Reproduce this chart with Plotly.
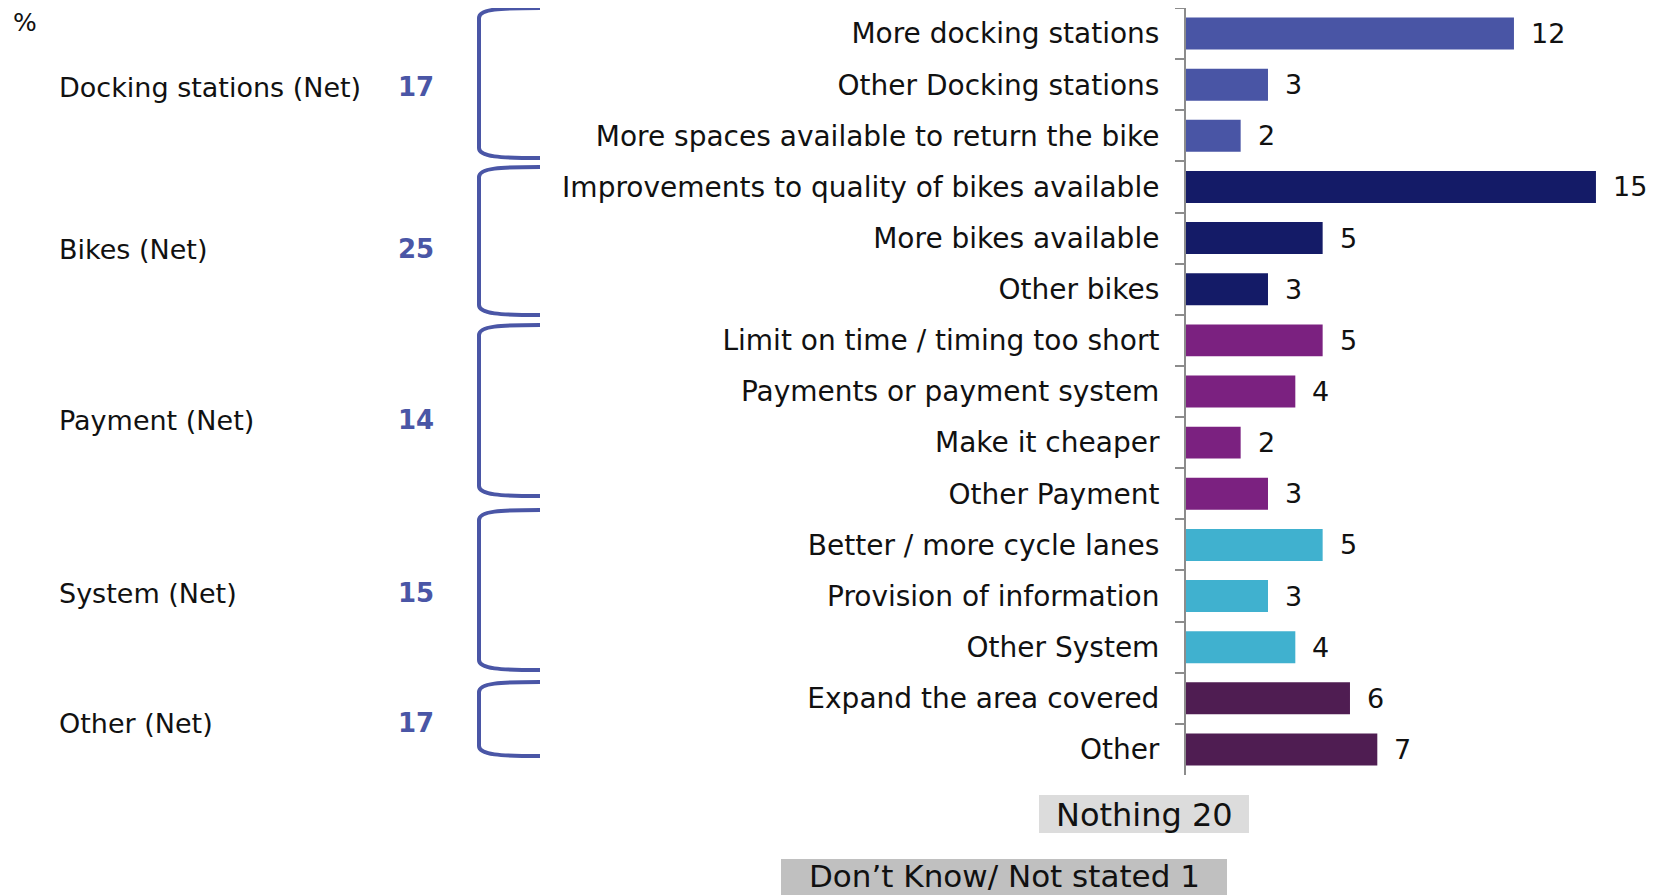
import plotly.graph_objects as go

# --- data -------------------------------------------------------------
ITEMS = [
    "More docking stations", "Other Docking stations",
    "More spaces available to return the bike",
    "Improvements to quality of bikes available", "More bikes available",
    "Other bikes",
    "Limit on time / timing too short", "Payments or payment system",
    "Make it cheaper", "Other Payment",
    "Better / more cycle lanes", "Provision of information", "Other System",
    "Expand the area covered", "Other",
]
VALUES = [12, 3, 2, 15, 5, 3, 5, 4, 2, 3, 5, 3, 4, 6, 7]
ITEM_GROUP = [0, 0, 0, 1, 1, 1, 2, 2, 2, 2, 3, 3, 3, 4, 4]

GROUPS = ["Docking stations (Net)", "Bikes (Net)", "Payment (Net)",
          "System (Net)", "Other (Net)"]
GROUP_NET = [17, 25, 14, 15, 17]
GROUP_COLORS = ["#4955A5", "#141B67", "#7B2180", "#40B1CF", "#4F1D52"]

NOTHING = 20
DONT_KNOW = 1

# --- layout helpers (screen pixels of the 1655x895 window) ------------
# the page body has an 8px margin, so the figure itself starts at (8, 8)
OFF = 8
SW, SH = 1655, 895
L, T, B, R = 1186, 8, 120, 18        # plot area edges in screen pixels
PW, PH = SW - L - R, SH - T - B
FONT = "DejaVu Sans"
BRACKET_COL = "#4A56A6"
# vertical pixel extent of each group bracket, and of each group label
BRACKET_Y = [(8, 158), (167, 315), (325, 496), (510, 670), (682, 756)]
GROUP_LABEL_Y = [87, 249, 420, 593, 723]


def px(x):
    return (x - L) / PW


def py(y):
    return 1 - (y - T) / PH


fig = go.Figure(go.Bar(
    x=VALUES, y=ITEMS, orientation="h",
    marker=dict(color=[GROUP_COLORS[g] for g in ITEM_GROUP], line_width=0),
    hoverinfo="x+y",
))


def note(x, y, text, size, anchor="center", color="#111111"):
    return dict(x=px(x), y=py(y), xref="paper", yref="paper", text=text,
                showarrow=False, xanchor=anchor, yanchor="middle",
                font=dict(size=size, color=color))


annotations = []
for item, v in zip(ITEMS, VALUES):
    annotations.append(dict(x=v, y=item, xref="x", yref="y", text=str(v),
                            showarrow=False, xanchor="left",
                            yanchor="middle", xshift=15,
                            font=dict(size=27, color="#111111")))

shapes = []
for gi, (name, net) in enumerate(zip(GROUPS, GROUP_NET)):
    yc = GROUP_LABEL_Y[gi]
    annotations.append(note(57, yc, name, 27, "left"))
    annotations.append(note(436, yc, "<b>%d</b>" % net, 26, "right",
                            BRACKET_COL))
    top, bot = BRACKET_Y[gi]
    xc, xa = 479, 540
    pts = [
        "M %f,%f" % (px(xa), py(top)),
        "C %f,%f %f,%f %f,%f" % (px(500), py(top), px(xc), py(top + 1),
                                  px(xc), py(top + 10)),
        "L %f,%f" % (px(xc), py(bot - 10)),
        "C %f,%f %f,%f %f,%f" % (px(xc), py(bot - 1), px(500), py(bot),
                                  px(xa), py(bot)),
    ]
    shapes.append(dict(type="path", path=" ".join(pts), xref="paper",
                       yref="paper", line=dict(color=BRACKET_COL, width=4)))

# "%" marker
annotations.append(note(11, 22, "%", 25, "left"))

# grey boxes below the chart
shapes.append(dict(type="rect", xref="paper", yref="paper", layer="below",
                   x0=px(1039), x1=px(1249), y0=py(795), y1=py(833),
                   fillcolor="#DCDCDC", line_width=0))
annotations.append(note(1144, 815, "Nothing %d" % NOTHING, 32))
shapes.append(dict(type="rect", xref="paper", yref="paper", layer="below",
                   x0=px(781), x1=px(1227), y0=py(859), y1=py(900),
                   fillcolor="#C0C0C0", line_width=0))
annotations.append(note(1004, 876,
                        "Don\u2019t Know/ Not stated %d" % DONT_KNOW, 31))

fig.update_layout(
    width=SW - OFF, height=SH - OFF,
    margin=dict(l=L - OFF, r=R, t=T - OFF, b=B, pad=0),
    paper_bgcolor="white", plot_bgcolor="white",
    font=dict(family=FONT, color="#111111"),
    bargap=0.375, showlegend=False,
    annotations=annotations, shapes=shapes,
)
fig.update_xaxes(range=[0, PW / 27.33], visible=False, fixedrange=True)
fig.update_yaxes(
    type="category", range=[len(ITEMS) - 0.5, -0.5], automargin=False,
    showline=True, linecolor="#8C8C8C", linewidth=2,
    ticks="outside", tickson="boundaries", ticklen=9, tickwidth=2,
    tickcolor="#8C8C8C", ticklabelstandoff=19,
    tickfont=dict(size=28, color="#111111"),
    showgrid=False, zeroline=False, fixedrange=True,
)

fig.write_html("out.html")
